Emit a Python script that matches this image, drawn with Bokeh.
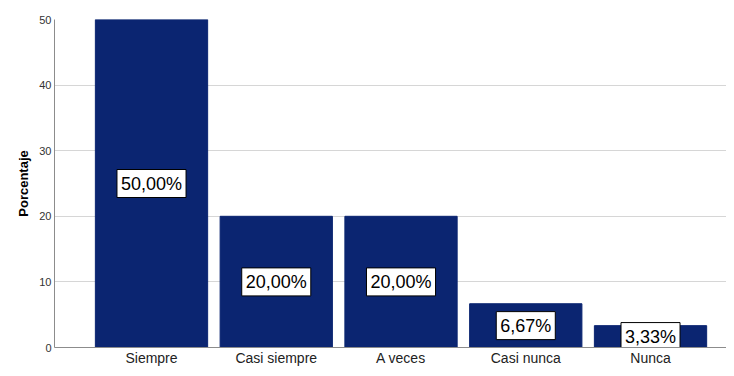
from bokeh.plotting import figure
from bokeh.models import ColumnDataSource, FixedTicker, Range1d
from bokeh.core.properties import value
from bokeh.embed import file_html
from bokeh.resources import INLINE

categories = ["Siempre", "Casi siempre", "A veces", "Casi nunca", "Nunca"]
percentages = [50.00, 20.00, 20.00, 6.67, 3.33]
label_texts = ["50,00%", "20,00%", "20,00%", "6,67%", "3,33%"]
y_ticks = [0, 10, 20, 30, 40, 50]

xs = list(range(len(categories)))
src = ColumnDataSource(dict(
    x=xs,
    top=percentages,
    mid=[v / 2 for v in percentages],
    txt=label_texts,
))

FONT = "Liberation Sans"
BAR = "#0b2571"

p = figure(width=726, height=368, output_backend="svg", toolbar_location=None,
           x_range=Range1d(-0.7776, 4.609), y_range=Range1d(0, 50),
           min_border_left=54, min_border_top=19, min_border_bottom=0, min_border_right=0)
p.outline_line_color = None

p.vbar(x="x", top="top", width=0.9, source=src, fill_color=BAR, line_color=BAR)

p.text(x="x", y="mid", text="txt", source=src,
       text_align="center", text_baseline="middle",
       text_font=value(FONT), text_font_size="18px", text_color="black",
       background_fill_color="white", border_line_color="black",
       border_line_width=1, padding=4)

p.xaxis.ticker = FixedTicker(ticks=xs)
p.xaxis.major_label_overrides = {i: c for i, c in enumerate(categories)}
p.xaxis.major_label_text_font = FONT
p.xaxis.major_label_text_font_size = "14px"
p.xaxis.major_label_text_color = "#222222"
p.xaxis.major_tick_line_color = None
p.xaxis.minor_tick_line_color = None
p.xaxis.major_tick_out = 0
p.xaxis.major_tick_in = 0
p.xaxis.minor_tick_out = 0
p.xaxis.axis_line_color = "#8c8c8c"
p.xaxis.major_label_standoff = 2

p.yaxis.ticker = FixedTicker(ticks=y_ticks)
p.yaxis.major_label_text_font = FONT
p.yaxis.major_label_text_font_size = "11px"
p.yaxis.major_label_text_color = "#333333"
p.yaxis.major_tick_line_color = None
p.yaxis.minor_tick_line_color = None
p.yaxis.major_tick_out = 0
p.yaxis.major_tick_in = 0
p.yaxis.minor_tick_out = 0
p.yaxis.axis_line_color = "#8c8c8c"
p.yaxis.major_label_standoff = 3
p.yaxis.axis_label = "Porcentaje"
p.yaxis.axis_label_text_font = FONT
p.yaxis.axis_label_text_font_style = "bold"
p.yaxis.axis_label_text_font_size = "13px"
p.yaxis.axis_label_text_color = "black"
p.yaxis.axis_label_standoff = 5

p.xgrid.grid_line_color = None
p.ygrid.grid_line_color = "#d6d6d6"
p.ygrid.grid_line_width = 1

open("out.html", "w").write(file_html(p, INLINE))
